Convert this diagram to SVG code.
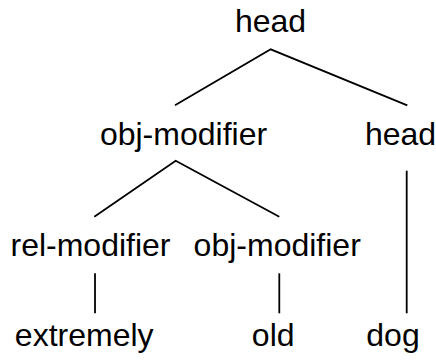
<svg xmlns="http://www.w3.org/2000/svg" width="436" height="360" viewBox="0 0 436 360">
  <style>
    .lbl { font-family: "Liberation Sans", Arial, Helvetica, sans-serif; font-size: 32px; fill: #000; text-anchor: middle; }
    .edge { stroke: #000; stroke-width: 1.8; fill: none; }
  </style>
  <rect width="436" height="360" fill="#fff"/>

  <!-- tree edges -->
  <g id="connectors">
    <polyline class="edge" points="175,105.3 270.7,49.3 407.3,105.3"/>
    <polyline class="edge" points="94.3,216.7 175.7,160.7 279.3,216.7"/>
    <line class="edge" x1="406.7" y1="170.7" x2="406.7" y2="313.3"/>
    <line class="edge" x1="95" y1="273.3" x2="95" y2="313.3"/>
    <line class="edge" x1="279.3" y1="273.3" x2="279.3" y2="313.3"/>
  </g>

  <!-- tree nodes -->
  <g id="root-head"><text class="lbl" x="270.5" y="32">head</text></g>
  <g id="obj-modifier-1"><text class="lbl" x="183.5" y="145">obj-modifier</text></g>
  <g id="head-2"><text class="lbl" x="400.5" y="145">head</text></g>
  <g id="rel-modifier"><text class="lbl" x="90.5" y="256">rel-modifier</text></g>
  <g id="obj-modifier-2"><text class="lbl" x="277.2" y="256">obj-modifier</text></g>
  <g id="leaf-extremely"><text class="lbl" x="84.2" y="346">extremely</text></g>
  <g id="leaf-old"><text class="lbl" x="273.2" y="346">old</text></g>
  <g id="leaf-dog"><text class="lbl" x="393" y="346">dog</text></g>
</svg>
